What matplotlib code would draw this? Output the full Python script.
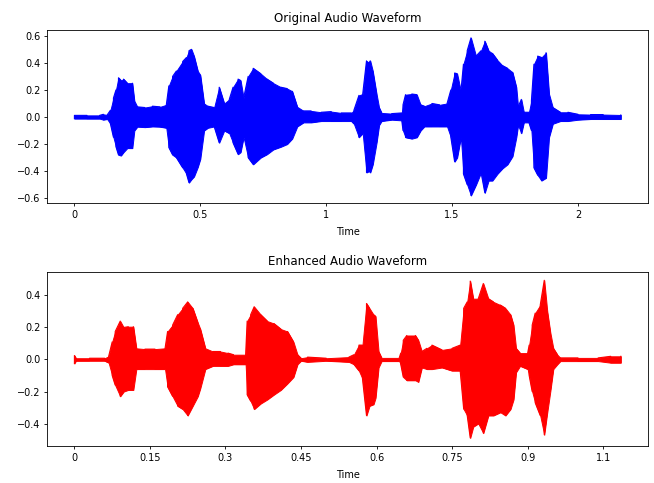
import numpy as np
import matplotlib
matplotlib.use('Agg')
import matplotlib.pyplot as plt

# envelope of the original waveform (time s, upper, lower)
orig_t = [0.00, 0.05, 0.10, 0.115, 0.13, 0.143, 0.155, 0.165, 0.175, 0.185, 0.195, 0.21, 0.23,
          0.238, 0.25, 0.28, 0.31, 0.34, 0.365, 0.375, 0.39, 0.405, 0.43, 0.445, 0.455, 0.465,
          0.475, 0.49, 0.50, 0.515, 0.53, 0.555, 0.575, 0.595, 0.615, 0.63, 0.65, 0.66, 0.672,
          0.69, 0.71, 0.74, 0.765, 0.79, 0.82, 0.845, 0.865, 0.885, 0.91, 0.94, 0.98, 1.02,
          1.06, 1.10, 1.11, 1.13, 1.145, 1.16, 1.17, 1.175, 1.185, 1.20, 1.21, 1.22, 1.26,
          1.30, 1.305, 1.315, 1.34, 1.36, 1.375, 1.39, 1.42, 1.45, 1.48, 1.495, 1.51, 1.52,
          1.535, 1.545, 1.56, 1.575, 1.595, 1.615, 1.63, 1.645, 1.66, 1.68, 1.70, 1.72, 1.74,
          1.755, 1.762, 1.775, 1.785, 1.805, 1.815, 1.825, 1.84, 1.855, 1.873, 1.885, 1.90,
          1.93, 1.96, 2.00, 2.05, 2.10, 2.17]
orig_hi = [0.012, 0.012, 0.012, 0.02, 0.015, 0.05, 0.14, 0.20, 0.29, 0.27, 0.28, 0.25, 0.25,
           0.12, 0.075, 0.07, 0.08, 0.075, 0.09, 0.23, 0.30, 0.34, 0.41, 0.44, 0.49, 0.50,
           0.45, 0.34, 0.31, 0.10, 0.08, 0.07, 0.22, 0.10, 0.13, 0.22, 0.28, 0.27, 0.14,
           0.30, 0.36, 0.32, 0.28, 0.25, 0.22, 0.21, 0.19, 0.075, 0.045, 0.045, 0.035, 0.04,
           0.03, 0.03, 0.05, 0.16, 0.17, 0.415, 0.40, 0.415, 0.34, 0.17, 0.07, 0.03, 0.025,
           0.03, 0.09, 0.165, 0.17, 0.165, 0.09, 0.08, 0.10, 0.09, 0.10, 0.20, 0.325, 0.32,
           0.19, 0.39, 0.49, 0.585, 0.45, 0.49, 0.56, 0.49, 0.47, 0.42, 0.38, 0.36, 0.33,
           0.22, 0.075, 0.13, 0.035, 0.035, 0.12, 0.39, 0.45, 0.44, 0.475, 0.17, 0.07,
           0.035, 0.035, 0.02, 0.018, 0.018, 0.015]
orig_lo = [-0.012, -0.012, -0.012, -0.02, -0.015, -0.05, -0.15, -0.22, -0.28, -0.285, -0.26, -0.23, -0.23,
           -0.10, -0.072, -0.075, -0.07, -0.072, -0.08, -0.225, -0.28, -0.30, -0.375, -0.42, -0.485, -0.46,
           -0.44, -0.37, -0.31, -0.10, -0.08, -0.07, -0.19, -0.10, -0.12, -0.19, -0.275, -0.26, -0.15,
           -0.30, -0.35, -0.30, -0.275, -0.24, -0.22, -0.20, -0.16, -0.07, -0.04, -0.04, -0.03, -0.03,
           -0.03, -0.03, -0.05, -0.15, -0.12, -0.41, -0.40, -0.41, -0.35, -0.19, -0.06, -0.03, -0.02,
           -0.025, -0.10, -0.15, -0.16, -0.15, -0.10, -0.07, -0.07, -0.07, -0.07, -0.15, -0.33, -0.30,
           -0.15, -0.42, -0.50, -0.58, -0.50, -0.41, -0.56, -0.47, -0.47, -0.42, -0.38, -0.35, -0.29,
           -0.15, -0.06, -0.12, -0.04, -0.04, -0.10, -0.375, -0.43, -0.47, -0.45, -0.15, -0.05,
           -0.03, -0.03, -0.02, -0.015, -0.015, -0.015]

# envelope of the enhanced waveform
enh_t = [0.0, 0.003, 0.03, 0.06, 0.068, 0.075, 0.081, 0.091, 0.098, 0.107, 0.117, 0.123, 0.14,
         0.16, 0.18, 0.185, 0.195, 0.205, 0.215, 0.225, 0.235, 0.245, 0.25, 0.26, 0.275, 0.29,
         0.305, 0.316, 0.34, 0.343, 0.35, 0.357, 0.37, 0.383, 0.396, 0.41, 0.423, 0.435, 0.443,
         0.45, 0.463, 0.50, 0.545, 0.555, 0.565, 0.572, 0.58, 0.586, 0.594, 0.598, 0.604, 0.61,
         0.645, 0.648, 0.653, 0.66, 0.677, 0.683, 0.69, 0.70, 0.71, 0.73, 0.75, 0.766, 0.773,
         0.78, 0.786, 0.792, 0.802, 0.812, 0.822, 0.832, 0.846, 0.856, 0.866, 0.872, 0.877,
         0.885, 0.90, 0.903, 0.909, 0.915, 0.925, 0.933, 0.939, 0.945, 0.951, 0.959, 0.965,
         1.00, 1.04, 1.065, 1.085]
enh_hi = [0.025, 0.008, 0.008, 0.008, 0.02, 0.11, 0.175, 0.24, 0.20, 0.205, 0.205, 0.07, 0.065,
          0.065, 0.07, 0.175, 0.215, 0.28, 0.32, 0.36, 0.32, 0.23, 0.19, 0.07, 0.05, 0.05,
          0.04, 0.03, 0.03, 0.24, 0.28, 0.33, 0.28, 0.24, 0.225, 0.19, 0.175, 0.11, 0.03,
          0.008, 0.015, 0.008, 0.015, 0.03, 0.09, 0.09, 0.35, 0.32, 0.28, 0.27, 0.05, 0.01,
          0.01, 0.04, 0.12, 0.15, 0.15, 0.12, 0.05, 0.07, 0.09, 0.06, 0.07, 0.09, 0.32,
          0.36, 0.49, 0.38, 0.38, 0.475, 0.38, 0.36, 0.34, 0.32, 0.28, 0.215, 0.07,
          0.04, 0.04, 0.09, 0.215, 0.29, 0.34, 0.495, 0.30, 0.17, 0.07, 0.03, 0.01,
          0.01, 0.01, 0.02, 0.02]
enh_lo = [-0.025, -0.008, -0.008, -0.008, -0.02, -0.10, -0.16, -0.23, -0.20, -0.19, -0.19, -0.06, -0.06,
          -0.06, -0.06, -0.17, -0.23, -0.29, -0.31, -0.35, -0.29, -0.23, -0.18, -0.06, -0.04, -0.04,
          -0.04, -0.03, -0.03, -0.22, -0.26, -0.31, -0.275, -0.25, -0.22, -0.19, -0.15, -0.11, -0.03,
          -0.008, -0.015, -0.008, -0.015, -0.03, -0.07, -0.12, -0.35, -0.29, -0.28, -0.24, -0.05, -0.01,
          -0.01, -0.03, -0.11, -0.13, -0.13, -0.14, -0.05, -0.06, -0.06, -0.05, -0.07, -0.07, -0.31,
          -0.35, -0.49, -0.42, -0.40, -0.46, -0.35, -0.35, -0.33, -0.35, -0.31, -0.25, -0.08,
          -0.04, -0.06, -0.10, -0.20, -0.27, -0.35, -0.47, -0.33, -0.20, -0.06, -0.03, -0.01,
          -0.01, -0.01, -0.02, -0.02]

enh_ticks = [0, 0.15, 0.3, 0.45, 0.6, 0.75, 0.9, 1.05]
enh_ticklabels = ['0', '0.15', '0.3', '0.45', '0.6', '0.75', '0.9', '1.1']

plt.rcParams['font.size'] = 7.0
plt.rcParams['axes.titlesize'] = 8.5
plt.rcParams['axes.linewidth'] = 0.6
plt.rcParams['xtick.major.width'] = 0.6
plt.rcParams['ytick.major.width'] = 0.6
plt.rcParams['xtick.major.size'] = 2.4
plt.rcParams['ytick.major.size'] = 2.4
plt.rcParams['xtick.major.pad'] = 2.5
plt.rcParams['ytick.major.pad'] = 2.5


def draw_wave(ax, t, hi, lo, color):
    t = np.asarray(t)
    hi = np.asarray(hi)
    lo = np.asarray(lo)
    ax.fill_between(t, lo, hi, color=color, linewidth=0.7)
    # zigzag between the envelope values to give the waveform texture
    zx = np.repeat(t, 2)
    zy = np.empty(len(t) * 2)
    zy[0::4] = lo[0::2]
    zy[1::4] = hi[0::2]
    zy[2::4] = hi[1::2]
    zy[3::4] = lo[1::2]
    ax.plot(zx, zy, color=color, linewidth=0.8)


fig = plt.figure(figsize=(6.54, 4.83), dpi=100)

ax1 = fig.add_subplot(2, 1, 1)
draw_wave(ax1, orig_t, orig_hi, orig_lo, 'blue')
ax1.set_title('Original Audio Waveform', pad=5.5)
ax1.set_xlabel('Time', labelpad=5)
ax1.set_xticks([0, 0.5, 1, 1.5, 2])
ax1.set_xticklabels(['0', '0.5', '1', '1.5', '2'])
ax1.set_yticks([-0.6, -0.4, -0.2, 0.0, 0.2, 0.4, 0.6])

ax2 = fig.add_subplot(2, 1, 2)
draw_wave(ax2, enh_t, enh_hi, enh_lo, 'red')
ax2.set_title('Enhanced Audio Waveform', pad=5.5)
ax2.set_xlabel('Time', labelpad=5)
ax2.set_xticks(enh_ticks)
ax2.set_xticklabels(enh_ticklabels)
ax2.set_yticks([-0.4, -0.2, 0.0, 0.2, 0.4])

fig.subplots_adjust(left=0.072, right=0.991, top=0.938, bottom=0.077, hspace=0.398)
fig.savefig('out.png', dpi=100)
